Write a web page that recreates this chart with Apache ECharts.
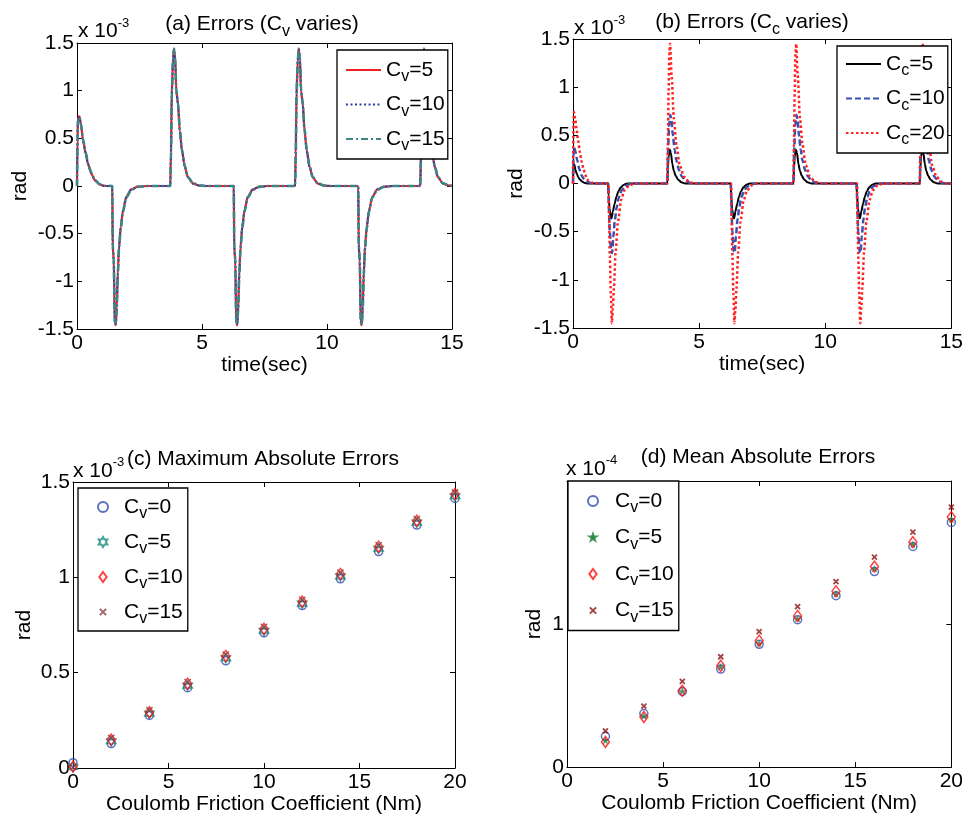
<!DOCTYPE html>
<html>
<head>
<meta charset="utf-8">
<script src="https://cdn.jsdelivr.net/npm/echarts@6.0.0/dist/echarts.min.js"></script>
<style>
  html, body { margin: 0; padding: 0; background: #fff; }
  #chart { width: 966px; height: 817px; }
</style>
</head>
<body>
<div id="chart"></div>
<script>
// ---- (a) tracking error, viscous coefficient varies (x 1e-3 rad) ----
const errCv5 = [
  [0,0],[0.02,0.5],[0.04,0.72],[0.1,0.73],[0.16,0.64],[0.24,0.48],[0.35,0.34],[0.44,0.23],[0.57,0.13],[0.71,0.06],[0.9,0.017],[1.1,0],[1.41,0],
  [1.43,-0.64],[1.47,-0.78],[1.51,-1.44],[1.55,-1.46],[1.59,-1.27],[1.63,-0.92],[1.68,-0.64],[1.75,-0.43],[1.84,-0.255],[1.97,-0.115],[2.17,-0.035],[2.44,-0.007],[2.77,0],[3.73,0],
  [3.76,0.34],[3.79,0.97],[3.84,1.32],[3.88,1.44],[3.93,1.32],[3.97,1.0],[4.04,0.86],[4.11,0.58],[4.2,0.37],[4.31,0.2],[4.44,0.09],[4.64,0.025],[4.91,0.003],[5.17,0],[6.27,0],
  [6.29,-0.64],[6.33,-0.78],[6.37,-1.44],[6.41,-1.46],[6.45,-1.27],[6.49,-0.92],[6.54,-0.64],[6.61,-0.43],[6.7,-0.255],[6.83,-0.115],[7.03,-0.035],[7.3,-0.007],[7.63,0],[8.72,0],
  [8.75,0.34],[8.78,0.97],[8.83,1.32],[8.87,1.44],[8.92,1.32],[8.96,1.0],[9.03,0.86],[9.1,0.58],[9.19,0.37],[9.3,0.2],[9.43,0.09],[9.63,0.025],[9.9,0.003],[10.16,0],[11.25,0],
  [11.27,-0.64],[11.31,-0.78],[11.35,-1.44],[11.39,-1.46],[11.43,-1.27],[11.47,-0.92],[11.52,-0.64],[11.59,-0.43],[11.68,-0.255],[11.81,-0.115],[12.01,-0.035],[12.28,-0.007],[12.61,0],[13.73,0],
  [13.76,0.34],[13.79,0.97],[13.84,1.32],[13.88,1.44],[13.93,1.32],[13.97,1.0],[14.04,0.86],[14.11,0.58],[14.2,0.37],[14.31,0.2],[14.44,0.09],[14.64,0.025],[14.91,0.003],[15,0]
];
const errCv10 = [
  [0,0],[0.02,0.49],[0.04,0.71],[0.1,0.72],[0.16,0.64],[0.24,0.48],[0.35,0.34],[0.44,0.23],[0.57,0.13],[0.71,0.06],[0.9,0.018],[1.1,0],[1.41,0],
  [1.43,-0.63],[1.47,-0.77],[1.51,-1.43],[1.55,-1.45],[1.59,-1.27],[1.63,-0.93],[1.68,-0.65],[1.75,-0.43],[1.84,-0.26],[1.97,-0.117],[2.17,-0.036],[2.44,-0.007],[2.77,0],[3.73,0],
  [3.76,0.33],[3.79,0.96],[3.84,1.31],[3.88,1.43],[3.93,1.32],[3.97,1.0],[4.04,0.86],[4.11,0.59],[4.2,0.37],[4.31,0.2],[4.44,0.09],[4.64,0.026],[4.91,0.003],[5.17,0],[6.27,0],
  [6.29,-0.63],[6.33,-0.77],[6.37,-1.43],[6.41,-1.45],[6.45,-1.27],[6.49,-0.93],[6.54,-0.65],[6.61,-0.43],[6.7,-0.26],[6.83,-0.117],[7.03,-0.036],[7.3,-0.007],[7.63,0],[8.72,0],
  [8.75,0.33],[8.78,0.96],[8.83,1.31],[8.87,1.43],[8.92,1.32],[8.96,1.0],[9.03,0.86],[9.1,0.59],[9.19,0.37],[9.3,0.2],[9.43,0.09],[9.63,0.026],[9.9,0.003],[10.16,0],[11.25,0],
  [11.27,-0.63],[11.31,-0.77],[11.35,-1.43],[11.39,-1.45],[11.43,-1.27],[11.47,-0.93],[11.52,-0.65],[11.59,-0.43],[11.68,-0.26],[11.81,-0.117],[12.01,-0.036],[12.28,-0.007],[12.61,0],[13.73,0],
  [13.76,0.33],[13.79,0.96],[13.84,1.31],[13.88,1.43],[13.93,1.32],[13.97,1.0],[14.04,0.86],[14.11,0.59],[14.2,0.37],[14.31,0.2],[14.44,0.09],[14.64,0.026],[14.91,0.003],[15,0]
];
const errCv15 = [
  [0,0],[0.02,0.48],[0.04,0.7],[0.1,0.72],[0.16,0.65],[0.24,0.49],[0.35,0.35],[0.44,0.24],[0.57,0.14],[0.71,0.065],[0.9,0.02],[1.1,0.002],[1.41,0],
  [1.43,-0.62],[1.47,-0.77],[1.51,-1.42],[1.55,-1.45],[1.59,-1.28],[1.63,-0.94],[1.68,-0.66],[1.75,-0.44],[1.84,-0.27],[1.97,-0.12],[2.17,-0.04],[2.44,-0.009],[2.77,0],[3.73,0],
  [3.76,0.32],[3.79,0.95],[3.84,1.31],[3.88,1.44],[3.93,1.33],[3.97,1.02],[4.04,0.87],[4.11,0.6],[4.2,0.38],[4.31,0.21],[4.44,0.095],[4.64,0.028],[4.91,0.004],[5.17,0],[6.27,0],
  [6.29,-0.62],[6.33,-0.77],[6.37,-1.42],[6.41,-1.45],[6.45,-1.28],[6.49,-0.94],[6.54,-0.66],[6.61,-0.44],[6.7,-0.27],[6.83,-0.12],[7.03,-0.04],[7.3,-0.009],[7.63,0],[8.72,0],
  [8.75,0.32],[8.78,0.95],[8.83,1.31],[8.87,1.44],[8.92,1.33],[8.96,1.02],[9.03,0.87],[9.1,0.6],[9.19,0.38],[9.3,0.21],[9.43,0.095],[9.63,0.028],[9.9,0.004],[10.16,0],[11.25,0],
  [11.27,-0.62],[11.31,-0.77],[11.35,-1.42],[11.39,-1.45],[11.43,-1.28],[11.47,-0.94],[11.52,-0.66],[11.59,-0.44],[11.68,-0.27],[11.81,-0.12],[12.01,-0.04],[12.28,-0.009],[12.61,0],[13.73,0],
  [13.76,0.32],[13.79,0.95],[13.84,1.31],[13.88,1.44],[13.93,1.33],[13.97,1.02],[14.04,0.87],[14.11,0.6],[14.2,0.38],[14.31,0.21],[14.44,0.095],[14.64,0.028],[14.91,0.004],[15,0]
];

// ---- (b) tracking error, Coulomb coefficient varies (x 1e-3 rad) ----
const errCc5 = [
  [0,0],[0.02,0.2],[0.05,0.2],[0.1,0.14],[0.15,0.1],[0.21,0.065],[0.28,0.04],[0.36,0.02],[0.47,0.006],[0.6,0],[1.39,0],
  [1.41,-0.12],[1.45,-0.26],[1.5,-0.36],[1.53,-0.36],[1.58,-0.29],[1.65,-0.21],[1.72,-0.14],[1.8,-0.08],[1.9,-0.04],[2.0,-0.015],[2.15,0],[3.74,0],
  [3.76,0.15],[3.79,0.28],[3.84,0.35],[3.88,0.32],[3.94,0.2],[4.0,0.13],[4.07,0.08],[4.17,0.04],[4.3,0.012],[4.45,0],[6.25,0],
  [6.27,-0.12],[6.31,-0.26],[6.36,-0.36],[6.39,-0.36],[6.44,-0.29],[6.51,-0.21],[6.58,-0.14],[6.66,-0.08],[6.76,-0.04],[6.86,-0.015],[7.01,0],[8.74,0],
  [8.76,0.15],[8.79,0.28],[8.84,0.35],[8.88,0.32],[8.94,0.2],[9.0,0.13],[9.07,0.08],[9.17,0.04],[9.3,0.012],[9.45,0],[11.24,0],
  [11.26,-0.12],[11.3,-0.26],[11.35,-0.36],[11.38,-0.36],[11.43,-0.29],[11.5,-0.21],[11.57,-0.14],[11.65,-0.08],[11.75,-0.04],[11.85,-0.015],[12.0,0],[13.75,0],
  [13.77,0.15],[13.8,0.28],[13.85,0.35],[13.89,0.32],[13.95,0.2],[14.01,0.13],[14.08,0.08],[14.18,0.04],[14.31,0.012],[14.46,0],[15,0]
];
const errCc10 = [
  [0,0],[0.02,0.3],[0.05,0.37],[0.1,0.33],[0.17,0.24],[0.25,0.15],[0.33,0.09],[0.42,0.05],[0.55,0.018],[0.7,0.004],[0.85,0],[1.4,0],
  [1.42,-0.25],[1.46,-0.5],[1.51,-0.71],[1.55,-0.72],[1.6,-0.55],[1.66,-0.38],[1.73,-0.25],[1.82,-0.14],[1.93,-0.07],[2.05,-0.03],[2.25,-0.005],[2.4,0],[3.74,0],
  [3.77,0.35],[3.81,0.6],[3.86,0.71],[3.9,0.66],[3.96,0.5],[4.03,0.35],[4.1,0.24],[4.2,0.14],[4.32,0.07],[4.47,0.025],[4.65,0.005],[4.8,0],[6.26,0],
  [6.28,-0.25],[6.32,-0.5],[6.37,-0.71],[6.41,-0.72],[6.46,-0.55],[6.52,-0.38],[6.59,-0.25],[6.68,-0.14],[6.79,-0.07],[6.91,-0.03],[7.11,-0.005],[7.26,0],[8.74,0],
  [8.77,0.35],[8.81,0.6],[8.86,0.71],[8.9,0.66],[8.96,0.5],[9.03,0.35],[9.1,0.24],[9.2,0.14],[9.32,0.07],[9.47,0.025],[9.65,0.005],[9.8,0],[11.25,0],
  [11.27,-0.25],[11.31,-0.5],[11.36,-0.71],[11.4,-0.72],[11.45,-0.55],[11.51,-0.38],[11.58,-0.25],[11.67,-0.14],[11.78,-0.07],[11.9,-0.03],[12.1,-0.005],[12.25,0],[13.75,0],
  [13.78,0.35],[13.82,0.6],[13.87,0.71],[13.91,0.66],[13.97,0.5],[14.04,0.35],[14.11,0.24],[14.21,0.14],[14.33,0.07],[14.48,0.025],[14.66,0.005],[14.81,0],[15,0]
];
const errCc20 = [
  [0,0],[0.02,0.6],[0.04,0.74],[0.09,0.67],[0.14,0.57],[0.2,0.45],[0.27,0.33],[0.34,0.23],[0.41,0.16],[0.48,0.1],[0.54,0.05],[0.63,0.025],[0.73,0.01],[0.9,0],[1.41,0],
  [1.43,-0.35],[1.46,-0.75],[1.5,-1.15],[1.54,-1.45],[1.58,-1.3],[1.62,-1.09],[1.69,-0.71],[1.78,-0.4],[1.91,-0.17],[2.04,-0.07],[2.24,-0.017],[2.45,0],[3.74,0],
  [3.76,0.4],[3.79,0.95],[3.82,1.35],[3.85,1.45],[3.91,1.12],[4.0,0.67],[4.1,0.4],[4.23,0.19],[4.4,0.07],[4.6,0.017],[4.8,0],[6.27,0],
  [6.29,-0.35],[6.32,-0.75],[6.36,-1.15],[6.4,-1.45],[6.44,-1.3],[6.48,-1.09],[6.55,-0.71],[6.64,-0.4],[6.77,-0.17],[6.9,-0.07],[7.1,-0.017],[7.31,0],[8.74,0],
  [8.76,0.4],[8.79,0.95],[8.82,1.35],[8.85,1.45],[8.91,1.12],[9.0,0.67],[9.1,0.4],[9.23,0.19],[9.4,0.07],[9.6,0.017],[9.8,0],[11.26,0],
  [11.28,-0.35],[11.31,-0.75],[11.35,-1.15],[11.39,-1.45],[11.43,-1.3],[11.47,-1.09],[11.54,-0.71],[11.63,-0.4],[11.76,-0.17],[11.89,-0.07],[12.09,-0.017],[12.3,0],[13.75,0],
  [13.77,0.4],[13.8,0.95],[13.83,1.35],[13.86,1.45],[13.92,1.12],[14.01,0.67],[14.11,0.4],[14.24,0.19],[14.41,0.07],[14.61,0.017],[14.81,0],[15,0]
];

// ---- (c) maximum absolute error vs Coulomb coefficient (x 1e-3 rad) ----
const maxCc = [0, 2, 4, 6, 8, 10, 12, 14, 16, 18, 20];
const maxCv0  = [0.028, 0.128, 0.276, 0.421, 0.562, 0.709, 0.852, 0.992, 1.135, 1.274, 1.414];
const maxCv5  = [0.005, 0.140, 0.285, 0.432, 0.576, 0.720, 0.862, 1.005, 1.150, 1.287, 1.425];
const maxCv10 = [0.008, 0.149, 0.293, 0.442, 0.588, 0.730, 0.873, 1.018, 1.161, 1.297, 1.437];
const maxCv15 = [0.005, 0.158, 0.303, 0.450, 0.595, 0.740, 0.882, 1.025, 1.168, 1.305, 1.445];

// ---- (d) mean absolute error vs Coulomb coefficient (x 1e-4 rad) ----
const meanCc = [2, 4, 6, 8, 10, 12, 14, 16, 18, 20];
const meanCv0  = [0.215, 0.374, 0.528, 0.685, 0.858, 1.030, 1.198, 1.367, 1.542, 1.710];
const meanCv5  = [0.182, 0.355, 0.528, 0.697, 0.862, 1.035, 1.208, 1.383, 1.553, 1.729];
const meanCv10 = [0.175, 0.350, 0.533, 0.708, 0.883, 1.056, 1.229, 1.402, 1.573, 1.748];
const meanCv15 = [0.252, 0.425, 0.598, 0.771, 0.946, 1.121, 1.296, 1.467, 1.643, 1.818];

// legend captions (subscript written as rich-text token)
const legendText = {
  a5: 'C{s|v}=5', a10: 'C{s|v}=10', a15: 'C{s|v}=15',
  b5: 'C{s|c}=5', b10: 'C{s|c}=10', b20: 'C{s|c}=20',
  c0: 'C{s|v}=0', c5: 'C{s|v}=5', c10: 'C{s|v}=10', c15: 'C{s|v}=15',
  d0: 'C{s|v}=0', d5: 'C{s|v}=5', d10: 'C{s|v}=10', d15: 'C{s|v}=15'
};

const FONT = 'Liberation Sans';
const FS = 21;
const RICH = {
  s: { fontFamily: FONT, fontSize: 16, lineHeight: 14, verticalAlign: 'bottom', color: '#000', fill: '#000' },
  p: { fontFamily: FONT, fontSize: 13, lineHeight: 13, verticalAlign: 'top', color: '#000', fill: '#000' }
};

const chart = echarts.init(document.getElementById('chart'), null, { renderer: 'canvas' });

const grids = [
  { left: 77,  top: 43,  width: 375, height: 286 },
  { left: 573, top: 39,  width: 382, height: 289 },
  { left: 73,  top: 482, width: 382, height: 286 },
  { left: 567, top: 481, width: 385, height: 286 }
];

const tickStyle = { inside: true, length: 5, lineStyle: { color: '#000', width: 1 } };
const frameLine = { onZero: false, lineStyle: { color: '#000', width: 1 } };
const labelStyle = { color: '#000', fontFamily: FONT, fontSize: FS };

function xPair(gi, min, max, step, name, gap) {
  return [
    { type: 'value', gridIndex: gi, position: 'bottom', min, max, interval: step,
      name, nameLocation: 'middle', nameGap: gap,
      nameTextStyle: { color: '#000', fontFamily: FONT, fontSize: FS },
      axisLine: frameLine, axisTick: tickStyle,
      axisLabel: Object.assign({ margin: 4, showMinLabel: true, showMaxLabel: true }, labelStyle),
      splitLine: { show: false } },
    { type: 'value', gridIndex: gi, position: 'top', min, max, interval: step,
      axisLine: frameLine, axisTick: tickStyle, axisLabel: { show: false }, splitLine: { show: false } }
  ];
}
function yPair(gi, min, max, step, name, gap, fmt) {
  return [
    { type: 'value', gridIndex: gi, position: 'left', min, max, interval: step,
      name, nameLocation: 'middle', nameGap: gap,
      nameTextStyle: { color: '#000', fontFamily: FONT, fontSize: FS },
      axisLine: frameLine, axisTick: tickStyle,
      axisLabel: Object.assign({ margin: 3, showMinLabel: true, showMaxLabel: true, formatter: fmt }, labelStyle),
      splitLine: { show: false } },
    { type: 'value', gridIndex: gi, position: 'right', min, max, interval: step,
      axisLine: frameLine, axisTick: tickStyle, axisLabel: { show: false }, splitLine: { show: false } }
  ];
}

function line(name, gi, data, color, width, dash) {
  return { type: 'line', name, xAxisIndex: 2 * gi, yAxisIndex: 2 * gi, data,
    symbol: 'none', showSymbol: false, smooth: 0.25, smoothMonotone: 'x',
    lineStyle: { color, width, type: dash }, itemStyle: { color }, silent: true, z: 2 };
}
function dots(name, gi, xs, ys, symbol, size, color, filled, bw) {
  return { type: 'scatter', name, xAxisIndex: 2 * gi, yAxisIndex: 2 * gi,
    data: xs.map((x, i) => [x, ys[i]]),
    symbol, symbolSize: size, silent: true,
    itemStyle: filled ? { color, borderColor: color, borderWidth: 0.5 }
                      : { color: 'rgba(255,255,255,0)', borderColor: color, borderWidth: bw } };
}

// marker outlines; the outer move-to points leave a margin around the glyph
const SYM_HEX = 'path://M0,-10L2.89,-5L8.66,-5L5.77,0L8.66,5L2.89,5L0,10L-2.89,5L-8.66,5L-5.77,0L-8.66,-5L-2.89,-5Z';
const SYM_STAR = 'path://M-14,-14M0,-10L2.25,-3.09L9.51,-3.09L3.63,1.18L5.88,8.09L0,3.82L-5.88,8.09L-3.63,1.18L-9.51,-3.09L-2.25,-3.09ZM14,14';
const SYM_X = 'path://M-8,-8M-5,-5L5,5M5,-5L-5,5M8,8';
const SYM_DIAMOND = 'path://M0,-11L8,0L0,11L-8,0Z';

function legendBox(left, top, names, itemW, itemH, gap, pad, lineIcons) {
  const lg = { show: true, orient: 'vertical', left, top, data: names, selectedMode: false,
    itemWidth: itemW, itemHeight: itemH, itemGap: gap, padding: pad,
    backgroundColor: '#fff', borderColor: '#000', borderWidth: 1.3, borderRadius: 0,
    formatter: n => legendText[n],
    textStyle: { color: '#000', fontFamily: FONT, fontSize: FS, lineHeight: 30, rich: RICH } };
  if (lineIcons) lg.itemStyle = { opacity: 0 };
  return lg;
}

function txt(x, y, text, align) {
  return { type: 'text', x, y, silent: true, z: 100,
    style: { text, fill: '#000', fontFamily: FONT, fontSize: FS, lineHeight: 30,
      align: align || 'left', verticalAlign: 'middle', rich: RICH } };
}

const option = {
  animation: false,
  backgroundColor: '#fff',
  grid: grids,
  xAxis: [].concat(
    xPair(0, 0, 15, 5, 'time(sec)', 25),
    xPair(1, 0, 15, 5, 'time(sec)', 25),
    xPair(2, 0, 20, 5, 'Coulomb Friction Coefficient (Nm)', 25),
    xPair(3, 0, 20, 5, 'Coulomb Friction Coefficient (Nm)', 25)
  ),
  yAxis: [].concat(
    yPair(0, -1.5, 1.5, 0.5, 'rad', 46),
    yPair(1, -1.5, 1.5, 0.5, 'rad', 46),
    yPair(2, 0, 1.5, 0.5, 'rad', 38),
    yPair(3, 0, 2, 1, 'rad', 22, v => (v === 2 ? '' : String(v)))
  ),
  legend: [
    legendBox(337, 50, ['a5', 'a10', 'a15'], 35, 14, 4.5, [5, 3, 5, 8], true),
    legendBox(837, 46, ['b5', 'b10', 'b20'], 35, 14, 4.5, [3, 3, 5, 8], true),
    legendBox(78, 488, ['c0', 'c5', 'c10', 'c15'], 32, 10, 5, [4, 5, 4, 19], false),
    legendBox(568, 481, ['d0', 'd5', 'd10', 'd15'], 34, 10, 6.5, [5, 5, 5, 19], false)
  ],
  series: [
    line('a5', 0, errCv5, '#ee2026', 2.2, 'solid'),
    line('a10', 0, errCv10, '#2c3ca8', 2, [2, 2.5]),
    line('a15', 0, errCv15, '#3d8585', 2.6, [7, 3, 2, 3]),

    line('b5', 1, errCc5, '#000000', 2, 'solid'),
    line('b10', 1, errCc10, '#3a50b0', 2.5, [6, 3]),
    line('b20', 1, errCc20, '#ff2020', 2.5, [2.5, 2.5]),

    dots('c0', 2, maxCc, maxCv0, 'circle', 8, '#2f4fae', false, 1.5),
    dots('c5', 2, maxCc, maxCv5, SYM_HEX, 9, '#148a7e', false, 1.6),
    dots('c10', 2, maxCc, maxCv10, SYM_DIAMOND, [8, 11], '#ff1010', false, 1.5),
    dots('c15', 2, maxCc, maxCv15, SYM_X, 10, '#8b3d3d', false, 1.5),

    dots('d0', 3, meanCc, meanCv0, 'circle', 8, '#2f4fae', false, 1.5),
    dots('d5', 3, meanCc, meanCv5, SYM_STAR, 10, '#1b7f3b', true, 0),
    dots('d10', 3, meanCc, meanCv10, SYM_DIAMOND, [8, 11], '#ff1010', false, 1.5),
    dots('d15', 3, meanCc, meanCv15, SYM_X, 8, '#8b1414', false, 1.8)
  ],
  graphic: [
    txt(262, 24.5, '(a) Errors (C{s|v} varies)', 'center'),
    txt(752, 22.5, '(b) Errors (C{s|c} varies)', 'center'),
    txt(127, 459.5, '(c) Maximum Absolute Errors', 'left'),
    txt(758, 457.5, '(d) Mean Absolute Errors', 'center'),
    txt(78, 31.5, 'x 10{p|-3}', 'left'),
    txt(574, 28.5, 'x 10{p|-3}', 'left'),
    txt(73, 471, 'x 10{p|-3}', 'left'),
    txt(566, 469, 'x 10{p|-4}', 'left')
  ]
};

chart.setOption(option);
</script>
</body>
</html>
